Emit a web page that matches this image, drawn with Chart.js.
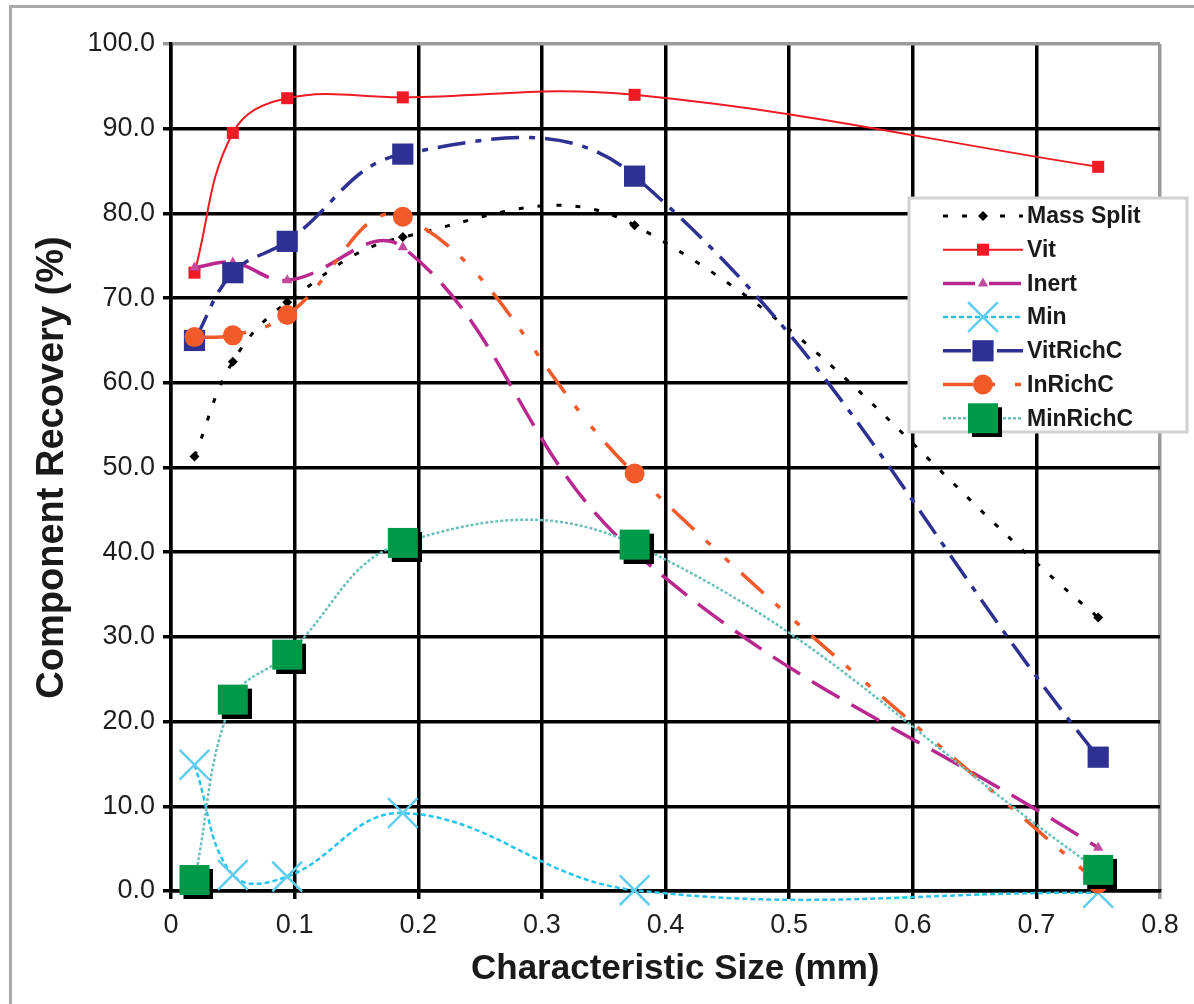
<!DOCTYPE html>
<html>
<head>
<meta charset="utf-8">
<script src="https://cdn.jsdelivr.net/npm/chart.js@4.4.1/dist/chart.umd.min.js"></script>
<style>
  html, body { margin: 0; padding: 0; background: #fff; }
  #frame {
    position: absolute; left: 9px; top: 5px; width: 1200px; height: 1100px;
    border: 3px solid #aaa; box-sizing: border-box;
  }
  #chart { position: absolute; left: 0; top: 0; }
</style>
</head>
<body>
<div id="frame"></div>
<canvas id="chart" width="1194" height="1004"></canvas>
<script>
// characteristic size (mm)
const sizes = [0.019, 0.05, 0.094, 0.1875, 0.375, 0.75];

// component recovery (%)
const massSplit = [51.3, 62.5, 69.5, 77.2, 78.6, 32.3];
const vit = [73.0, 89.5, 93.6, 93.7, 94.0, 85.5];
const inert = [73.6, 74.2, 72.1, 76.0, 40.0, 5.1];
const minData = [14.9, 1.9, 1.7, 9.2, 0.1, -0.2];
const vitRichC = [65.0, 73.0, 76.7, 87.0, 84.4, 15.8];
const inRichC = [65.4, 65.6, 68.0, 79.6, 49.3, 0.9];
const minRichC = [1.3, 22.6, 27.9, 41.1, 40.9, 2.5];

const xTickLabels = ["0", "0.1", "0.2", "0.3", "0.4", "0.5", "0.6", "0.7", "0.8"];
const yTickLabels = ["0.0", "10.0", "20.0", "30.0", "40.0", "50.0", "60.0", "70.0", "80.0", "90.0", "100.0"];

const FONT = "'Liberation Sans', Arial, sans-serif";

function pts(values) {
  return values.map((v, i) => ({ x: sizes[i], y: v }));
}

// green square with a hard black drop shadow, used as point style
function shadowSquare(size, off, color) {
  const c = document.createElement("canvas");
  c.width = c.height = size + 2 * off;
  const g = c.getContext("2d");
  g.fillStyle = "#000";
  g.fillRect(2 * off, 2 * off, size, size);
  g.fillStyle = color;
  g.fillRect(off, off, size, size);
  return c;
}
const greenSquare = shadowSquare(30, 4, "#00994a");

const boxLegend = {
  id: "boxLegend",
  afterDraw(chart) {
    const ctx = chart.ctx;
    const left = 909, top = 198, w = 278, h = 234;
    ctx.save();
    ctx.fillStyle = "#fff";
    ctx.fillRect(left, top, w, h);
    ctx.strokeStyle = "#d2d2d2";
    ctx.lineWidth = 3;
    ctx.strokeRect(left, top, w, h);
    chart.data.datasets.forEach((ds, i) => {
      const y = 216 + i * 33.7;
      ctx.setLineDash(ds.borderDash || []);
      ctx.strokeStyle = ds.borderColor;
      ctx.lineWidth = ds.borderWidth;
      ctx.beginPath();
      ctx.moveTo(943, y);
      ctx.lineTo(1023, y);
      ctx.stroke();
      ctx.setLineDash([]);
      ctx.fillStyle = ds.pointBackgroundColor;
      ctx.strokeStyle = ds.pointBorderColor;
      ctx.lineWidth = ds.pointBorderWidth;
      Chart.helpers.drawPoint(ctx, {
        pointStyle: ds.pointStyle,
        rotation: 0,
        radius: ds.pointRadius,
        borderWidth: ds.pointBorderWidth
      }, 983, y);
      ctx.fillStyle = "#1a1a1a";
      ctx.font = "bold 23px " + FONT;
      ctx.textBaseline = "middle";
      ctx.textAlign = "left";
      ctx.fillText(ds.label, 1027, y + 1);
    });
    ctx.restore();
  }
};

const common = { fill: false, tension: 0.4, clip: false, pointHoverRadius: 0 };

new Chart(document.getElementById("chart"), {
  type: "line",
  data: {
    datasets: [
      Object.assign({}, common, {
        label: "Mass Split", data: pts(massSplit), order: 6,
        borderColor: "#000", borderWidth: 3, borderDash: [5, 14],
        pointStyle: "rectRot", pointRadius: 5,
        pointBackgroundColor: "#000", pointBorderColor: "#000", pointBorderWidth: 0
      }),
      Object.assign({}, common, {
        label: "Vit", data: pts(vit), order: 5,
        borderColor: "#ed1c24", borderWidth: 2,
        pointStyle: "rect", pointRadius: 8.5,
        pointBackgroundColor: "#ed1c24", pointBorderColor: "#ed1c24", pointBorderWidth: 0
      }),
      Object.assign({}, common, {
        label: "Inert", data: pts(inert), order: 4,
        borderColor: "#b8288f", borderWidth: 3.5, borderDash: [32, 14],
        pointStyle: "triangle", pointRadius: 6,
        pointBackgroundColor: "#c24a9f", pointBorderColor: "#c24a9f", pointBorderWidth: 0
      }),
      Object.assign({}, common, {
        label: "Min", data: pts(minData), order: 3,
        borderColor: "#27c4ec", borderWidth: 2.5, borderDash: [5, 3],
        pointStyle: "crossRot", pointRadius: 21,
        pointBackgroundColor: "#62cdee", pointBorderColor: "#62cdee", pointBorderWidth: 2.5
      }),
      Object.assign({}, common, {
        label: "VitRichC", data: pts(vitRichC), order: 2,
        borderColor: "#2e3192", borderWidth: 3.5, borderDash: [28, 10, 6, 10],
        pointStyle: "rect", pointRadius: 15,
        pointBackgroundColor: "#2e3192", pointBorderColor: "#2e3192", pointBorderWidth: 0
      }),
      Object.assign({}, common, {
        label: "InRichC", data: pts(inRichC), order: 1,
        borderColor: "#f15a29", borderWidth: 3.5, borderDash: [30, 16, 6, 20, 6, 16],
        pointStyle: "circle", pointRadius: 10,
        pointBackgroundColor: "#f15a29", pointBorderColor: "#f15a29", pointBorderWidth: 0
      }),
      Object.assign({}, common, {
        label: "MinRichC", data: pts(minRichC), order: 0,
        borderColor: "#6cbfbb", borderWidth: 2.5, borderDash: [3, 2],
        pointStyle: greenSquare, pointRadius: 15,
        pointBackgroundColor: "#00994a", pointBorderColor: "#00994a", pointBorderWidth: 0
      })
    ]
  },
  options: {
    responsive: false,
    animation: false,
    devicePixelRatio: 1,
    layout: { padding: { top: 44, right: 34, left: 0, bottom: 0 } },
    plugins: { legend: { display: false }, tooltip: { enabled: false } },
    events: [],
    scales: {
      x: {
        type: "linear", min: 0, max: 0.8,
        afterFit: (s) => { s.height = 113; },
        afterBuildTicks: (s) => { s.ticks = xTickLabels.map((t, i) => ({ value: i / 10 })); },
        ticks: {
          padding: 10, color: "#1e1e1e",
          font: { family: FONT, size: 27 },
          callback: (v, i) => xTickLabels[i]
        },
        grid: {
          lineWidth: 3.5, tickLength: 8,
          color: (c) => (c.tick && Math.abs(c.tick.value - 0.8) < 1e-6 ? "#9a9a9a" : "#000")
        },
        border: { color: "#000", width: 3.5 },
        title: {
          display: true, text: "  Characteristic Size (mm)", color: "#1a1a1a",
          font: { family: FONT, size: 35, weight: "bold" },
          padding: { top: 0, bottom: 14 }
        }
      },
      y: {
        type: "linear", min: 0, max: 100,
        afterFit: (s) => { s.width = 171; },
        afterBuildTicks: (s) => { s.ticks = yTickLabels.map((t, i) => ({ value: i * 10 })); },
        ticks: {
          padding: 8, color: "#1e1e1e",
          font: { family: FONT, size: 27 },
          callback: (v, i) => yTickLabels[i]
        },
        grid: {
          lineWidth: 3.5, tickLength: 8,
          color: (c) => (c.tick && c.tick.value === 100 ? "#9a9a9a" : "#000")
        },
        border: { color: "#000", width: 3.5 },
        title: {
          display: true, text: "Component Recovery (%)", color: "#1a1a1a",
          font: { family: FONT, size: 38, weight: "bold" },
          padding: { top: 30, bottom: 0 }
        }
      }
    }
  },
  plugins: [boxLegend]
});
</script>
</body>
</html>
